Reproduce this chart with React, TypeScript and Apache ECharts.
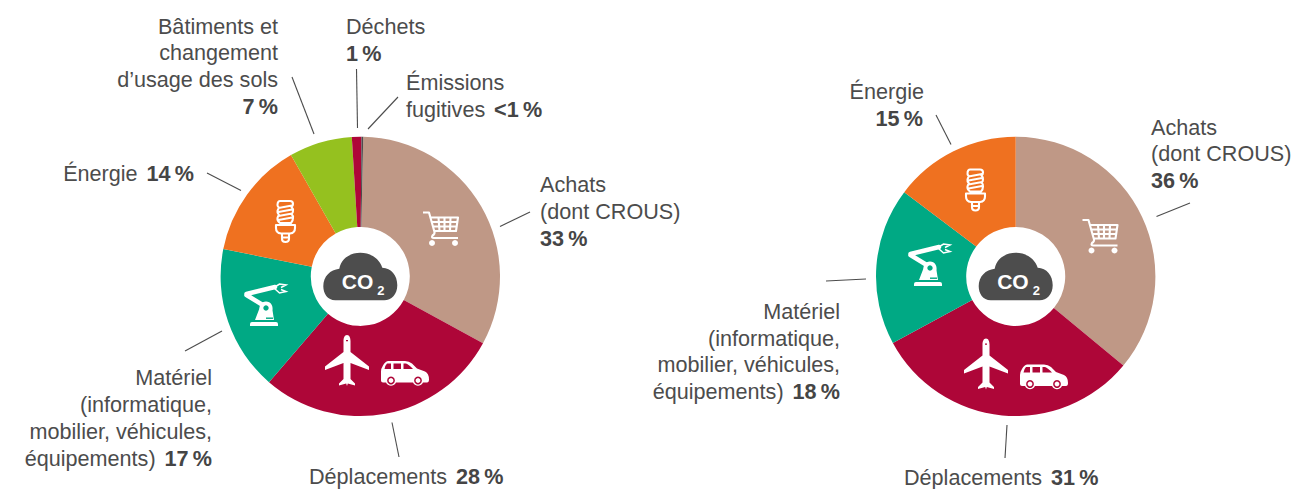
import React, { useEffect, useRef } from "react";
import * as echarts from "echarts";

const leftCategories = ["Achats (dont CROUS)", "Déplacements", "Matériel", "Énergie", "Bâtiments et changement d’usage des sols", "Déchets", "Émissions fugitives"];
const leftValues = [32.6, 28.4, 16.8, 13.6, 7.3, 1.1, 0.2];
const leftPercents = ["33\u2009%", "28\u2009%", "17\u2009%", "14\u2009%", "7\u2009%", "1\u2009%", "<1\u2009%"];
const leftColors = ["#bf9886", "#ae0638", "#00a984", "#ef7120", "#95c11f", "#ae0638", "#4d4d4d"];

const rightCategories = ["Achats (dont CROUS)", "Déplacements", "Matériel", "Énergie"];
const rightValues = [36, 31.1, 18.2, 14.7];
const rightPercents = ["36\u2009%", "31\u2009%", "18\u2009%", "15\u2009%"];
const rightColors = ["#bf9886", "#ae0638", "#00a984", "#ef7120"];

const TEXT = "#4c4c4c";
const FONT = "'Liberation Sans', Arial, sans-serif";

echarts.graphic.registerShape("icCloud", echarts.graphic.extendPath("M12 47C4 47 0 40 0 33C0 23 7 16.5 16 15.5C18 5 27 -0.5 37 -0.5C47 -0.5 56 5 59 14.5C68 15 74 22 74 32C74 41 68 47 61 47Z", {}));
echarts.graphic.registerShape("icCartLines", echarts.graphic.extendPath("M0 1.5H6L11.5 21Q12 23 9.5 24.5Q8 27 11 27H35M7.5 6.5H35L33 20H11.5M8.8 11H34.3M10 15.5H33.6M15.5 6.5L16.5 20M21.5 6.5V20M27.5 6.5L27 20", {}));
echarts.graphic.registerShape("icBulbLines", echarts.graphic.extendPath("M5 1H15Q18 1 18 4Q18 6 16.5 7Q18.5 9 18 11Q18 13 16.5 14Q18.5 16 18 18Q18 21 16 23H5Q2 21 2.5 18Q3 16 4 15Q2 13 2.5 11Q3 9 4 8Q2 6 2.5 4Q3 1 5 1ZM3.5 8L17 5.5M3.5 12L17 9.5M3.5 16L17 13.5M3.5 20L17 17.5M1 25H20V28Q20 33 15 33.5H6Q1 33 1 28ZM7 34V39Q7 42 10.5 42Q14 42 14 39V34M7 37.5H14", {}));
echarts.graphic.registerShape("icRobotFill", echarts.graphic.extendPath("M9 39H33Q35 39 35 41V43H7V41Q7 39 9 39ZM12 37L17 24L29 24L31 37Z", {}));
echarts.graphic.registerShape("icRobotArm", echarts.graphic.extendPath("M3.5 12L23 24M3.5 11L32 4", {}));
echarts.graphic.registerShape("icRobotClaw", echarts.graphic.extendPath("M31 4.5L36.5 1L43 2L38 4.5M31 5L36.5 10L43 8.5L38 6.5", {}));
echarts.graphic.registerShape("icPlane", echarts.graphic.extendPath("M22 0C24.5 0 25.5 3 25.5 6L25.5 17L44 31.5L44 35L25.5 28L25.5 44L30 48.5L30 50.5L22.8 48.5L22 51L21.2 48.5L14 50.5L14 48.5L18.5 44L18.5 28L0 35L0 31.5L18.5 17L18.5 6C18.5 3 19.5 0 22 0Z", {}));
echarts.graphic.registerShape("icCar", echarts.graphic.extendPath("M2 22Q0 22 0 20L0 11Q0 8 2 5Q4 1 7 0.5L24 0.5Q28 0.5 31 3L36 8L44 11Q48 13 48 19Q48 22 46 22Z", {}));
echarts.graphic.registerShape("icCarWin", echarts.graphic.extendPath("M6 3H10V8.5H3.5Q4 5 6 3ZM12.5 3H20V8.5H12.5ZM22.5 3H25Q28 4 32 8.5H22.5Z", {}));

const white = "#ffffff";
const Z = 10;
const plain = (type: string, x: number, y: number, extra: any = {}) => ({ type, x, y, z: Z, silent: true, style: { fill: white }, ...extra });

const cart = (x: number, y: number) => ({
  type: "group", x, y, silent: true,
  children: [
    { type: "icCartLines", z: Z, silent: true, style: { fill: "none", stroke: white, lineWidth: 2.1, lineJoin: "round" } },
    { type: "circle", z: Z, silent: true, shape: { cx: 9, cy: 32, r: 3 }, style: { fill: white } },
    { type: "circle", z: Z, silent: true, shape: { cx: 32, cy: 32, r: 3 }, style: { fill: white } },
  ],
});
const bulb = (x: number, y: number) => ({
  type: "group", x, y, silent: true,
  children: [{ type: "icBulbLines", z: Z, silent: true, style: { fill: "none", stroke: white, lineWidth: 2.1, lineJoin: "round" } }],
});
const robot = (x: number, y: number) => ({
  type: "group", x, y, silent: true,
  children: [
    { type: "icRobotArm", z: Z, silent: true, style: { fill: "none", stroke: white, lineWidth: 4.5, lineCap: "round" } },
    { type: "icRobotClaw", z: Z, silent: true, style: { fill: "none", stroke: white, lineWidth: 1.5 } },
    plain("icRobotFill", 0, 0),
    { type: "circle", z: Z, silent: true, shape: { cx: 23, cy: 25, r: 6.5 }, style: { fill: white } },
    { type: "circle", z: Z + 1, silent: true, shape: { cx: 23, cy: 25, r: 2.7 }, style: { fill: "#00a984" } },
    { type: "rect", z: Z + 1, silent: true, shape: { x: 23, y: 34.5, width: 7, height: 1.4 }, style: { fill: "#00a984" } },
  ],
});
const plane = (x: number, y: number) => ({
  type: "group", x, y, silent: true,
  children: [
    plain("icPlane", 0, 0),
    { type: "rect", z: Z + 1, silent: true, shape: { x: 21, y: 5, width: 2, height: 1.2 }, style: { fill: "#ae0638" } },
  ],
});
const car = (x: number, y: number) => ({
  type: "group", x, y, silent: true,
  children: [
    plain("icCar", 0, 0),
    { type: "icCarWin", z: Z + 1, silent: true, style: { fill: "#ae0638" } },
    ...[10, 37].flatMap((cx) => [
      { type: "circle", z: Z + 1, silent: true, shape: { cx, cy: 20, r: 5.3 }, style: { fill: white } },
      { type: "circle", z: Z + 2, silent: true, shape: { cx, cy: 20, r: 3.9 }, style: { fill: "#ae0638" } },
      { type: "circle", z: Z + 3, silent: true, shape: { cx, cy: 20, r: 2.4 }, style: { fill: white } },
    ]),
  ],
});
const cloud = (x: number, y: number) => ({
  type: "group", x, y, silent: true,
  children: [
    { type: "icCloud", z: Z, silent: true, style: { fill: "#4d4d4d" } },
    { type: "text", z: Z + 1, silent: true, x: 18.5, y: 38.5, style: { text: "CO", fill: white, font: `bold 21px ${FONT}`, verticalAlign: "bottom" } },
    { type: "text", z: Z + 1, silent: true, x: 54, y: 44, style: { text: "2", fill: white, font: `bold 13px ${FONT}`, verticalAlign: "bottom" } },
  ],
});

const SIZE = 21.6;
const rich = {
  n: { fontFamily: FONT, fontSize: SIZE, fill: TEXT, fontWeight: 400 as any },
  g: { fontFamily: FONT, fontSize: 32, fill: TEXT, fontWeight: 400 as any, lineHeight: 26 },
  b: { fontFamily: FONT, fontSize: SIZE, fill: "#454545", fontWeight: 700 as any },
};
const txt = (x: number, y: number, align: string, name: string, pct = "") => ({
  type: "text", z: Z, silent: true, x, y,
  style: {
    text: [name ? `{n|${name}}` : "", pct ? `{b|${pct}}` : ""].filter(Boolean).join("{g|\u00A0}"),
    rich, align, verticalAlign: "middle",
  },
});
const lead = (x1: number, y1: number, x2: number, y2: number) => ({
  type: "line", z: Z, silent: true, shape: { x1, y1, x2, y2 }, style: { stroke: "#4c4c4c", lineWidth: 1.1 },
});

export default function App() {
  const ref = useRef<HTMLDivElement>(null);
  useEffect(() => {
    const chart = echarts.init(ref.current!, null, { renderer: "svg" });
    const pie = (center: number[], startAngle: number, names: string[], values: number[], colors: string[]) => ({
      type: "pie", center, radius: [49.5, 139.7], startAngle, clockwise: true, silent: true, minAngle: 0,
      avoidLabelOverlap: false, label: { show: false }, labelLine: { show: false },
      data: names.map((name, i) => ({ name, value: values[i], itemStyle: { color: colors[i], borderWidth: 0 } })),
    });
    chart.setOption({
      animation: false,
      backgroundColor: "#ffffff",
      series: [
        pie([360.3, 276.4], 88.8, leftCategories, leftValues, leftColors),
        pie([1015.7, 276.4], 90, rightCategories, rightValues, rightColors),
      ],
      graphic: { elements: [
        cart(423, 211), bulb(275, 200), robot(243, 283), plane(325, 335), car(381, 360.5), cloud(323.3, 253.3),
        cart(1082.5, 218.5), bulb(965, 168.5), robot(907, 243), plane(964, 338.5), car(1020, 364), cloud(978.7, 253.3),

        txt(278, 26, "right", "Bâtiments et"), txt(278, 52.5, "right", "changement"), txt(278, 79, "right", "d’usage des sols"), txt(278, 106, "right", "", leftPercents[4]),
        txt(346, 26, "left", "Déchets"), txt(346, 53, "left", "", leftPercents[5]),
        txt(406, 82, "left", "Émissions"), txt(406, 109, "left", "fugitives", leftPercents[6]),
        txt(194, 173, "right", "Énergie", leftPercents[3]),
        txt(540, 184, "left", "Achats"), txt(540, 211, "left", "(dont CROUS)"), txt(540, 238, "left", "", leftPercents[0]),
        txt(212, 377, "right", "Matériel"), txt(212, 404, "right", "(informatique,"), txt(212, 431, "right", "mobilier, véhicules,"), txt(212, 458, "right", "équipements)", leftPercents[2]),
        txt(309, 476, "left", "Déplacements", leftPercents[1]),

        txt(924, 91, "right", "Énergie"), txt(923, 118, "right", "", rightPercents[3]),
        txt(1151, 127, "left", "Achats"), txt(1151, 153, "left", "(dont CROUS)"), txt(1151, 180, "left", "", rightPercents[0]),
        txt(840, 311, "right", "Matériel"), txt(840, 338, "right", "(informatique,"), txt(840, 364, "right", "mobilier, véhicules,"), txt(840, 391, "right", "équipements)", rightPercents[2]),
        txt(904, 477.5, "left", "Déplacements", rightPercents[1]),

        lead(292, 77, 314, 134), lead(356.5, 69, 357.5, 128), lead(398, 97, 368, 129), lead(207, 173, 241, 190.5),
        lead(530, 212, 500, 226.5), lead(222, 331, 185, 351), lead(392, 422.5, 399, 457),
        lead(936, 115, 951, 144.5), lead(1190, 203, 1156.5, 216.5), lead(866, 279, 826, 281), lead(1007, 425, 1005, 458),
      ] },
    });
    return () => chart.dispose();
  }, []);
  return <div ref={ref} style={{ position: "absolute", left: 0, top: 0, width: 1316, height: 489 }} />;
}
